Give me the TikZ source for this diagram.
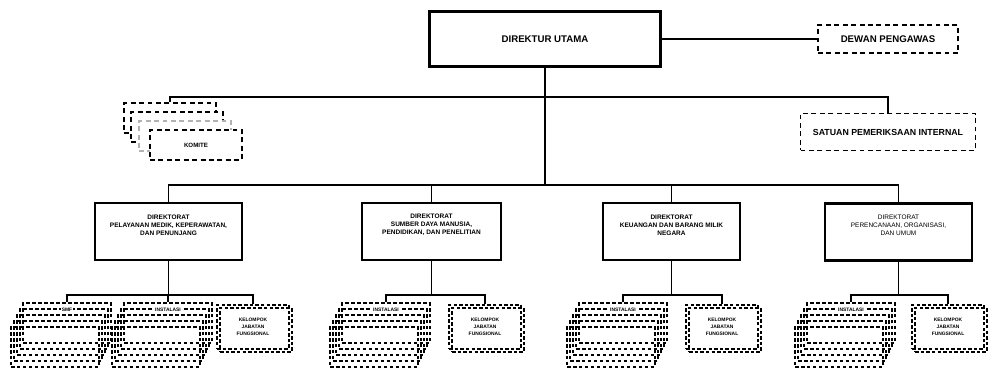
\documentclass[tikz,border=0pt]{standalone}
\usepackage{fontspec}
\setmainfont{Liberation Sans}

\begin{document}
\begin{tikzpicture}[x=0.02cm, y=-0.02cm,
    mainbox/.style={draw, line width=1.2pt, inner sep=0pt},
    dashbox/.style={draw, line width=1pt, dash pattern=on 2.8pt off 2pt, inner sep=0pt},
    stackbox/.style={draw, line width=0.8pt, dash pattern=on 2pt off 1.4pt, inner sep=0pt,
        minimum width=1.76cm, minimum height=0.8cm},
    kjfbox/.style={draw, line width=0.9pt, dash pattern=on 2pt off 1.2pt, inner sep=0pt,
        minimum width=1.44cm, minimum height=0.88cm},
    link/.style={line width=0.9pt},
    toptext/.style={font=\bfseries\fontsize{5.5}{6.5}\selectfont},
    dirtext/.style={font=\bfseries\fontsize{3.7}{4.6}\selectfont, align=center, inner sep=0pt},
    smalltext/.style={font=\bfseries\fontsize{2.8}{4}\selectfont, align=center, inner sep=0pt}
]
    \useasboundingbox (0,0) rectangle (1003,377);

    % Top level
    \node[mainbox, minimum width=4.62cm, minimum height=1.1cm, toptext] (dirut) at (545,39) {DIREKTUR UTAMA};
    \node[dashbox, minimum width=2.8cm, minimum height=0.56cm, toptext] (dewas) at (888,39) {DEWAN PENGAWAS};
    \node[dashbox, minimum width=3.5cm, minimum height=0.74cm, font=\bfseries\fontsize{5}{6}\selectfont] (spi) at (888,132) {SATUAN PEMERIKSAAN INTERNAL};

    % Komite (stacked boxes)
    \foreach \k/\cx/\cy/\col in {1/170/118/black, 2/177/127/black, 3/185/136/gray!60}
        \node[dashbox, draw=\col, fill=white, minimum width=1.84cm, minimum height=0.6cm] (kom\k) at (\cx,\cy) {};
    \node[dashbox, fill=white, minimum width=1.84cm, minimum height=0.6cm, font=\bfseries\fontsize{3.5}{4}\selectfont] (komite) at (196,145) {KOMITE};

    % Direktorat
    \node[mainbox, minimum width=2.94cm, minimum height=1.14cm] (dir1) at (168.5,231.5) {};
    \node[mainbox, minimum width=2.78cm, minimum height=1.14cm] (dir2) at (431.5,231.5) {};
    \node[mainbox, minimum width=2.74cm, minimum height=1.14cm] (dir3) at (671.5,231.5) {};
    \node[mainbox, minimum width=2.94cm, minimum height=1.14cm] (dir4) at (898.5,232) {};
    \node[dirtext] (dir1t) at ([yshift=3.7pt]dir1.center) {DIREKTORAT\\PELAYANAN MEDIK, KEPERAWATAN,\\DAN PENUNJANG};
    \node[dirtext] (dir2t) at ([yshift=3.7pt]dir2.center) {DIREKTORAT\\SUMBER DAYA MANUSIA,\\PENDIDIKAN, DAN PENELITIAN};
    \node[dirtext] (dir3t) at ([yshift=3.7pt]dir3.center) {DIREKTORAT\\KEUANGAN DAN BARANG MILIK\\NEGARA};
    \node[dirtext, font=\fontsize{3.7}{4.6}\selectfont] (dir4t) at ([yshift=3.7pt]dir4.center) {DIREKTORAT\\PERENCANAAN, ORGANISASI,\\DAN UMUM};

    % Connectors of the top part
    \coordinate (busA) at (545,97);
    \coordinate (busB) at (545,185);
    \coordinate (br) at (0,295);
    \draw[link] (dirut.east) -- (dewas.west);
    \draw[link] (dirut.south) -- (busB);
    \draw[link] (kom1.north) |- (busA) -| (spi.north);
    \draw[link] (dir1.north) |- (busB) -| (dir4.north);
    \draw[link] (dir2.north) -- (dir2.north |- busB);
    \draw[link] (dir3.north) -- (dir3.north |- busB);

    % Units below each direktorat (stacked boxes)
    \foreach \nm/\cx/\txt in {sa/67/SMF, sb/168/INSTALASI, sc/386/INSTALASI, sd/623/INSTALASI, se/851/INSTALASI}{
        \foreach \k in {1,...,4}
            \node[stackbox] (\nm\k) at (\cx-3*\k, 323+6*\k) {};
        \node[stackbox] (\nm) at (\cx,323) {};
        \node[smalltext, fill=white, inner sep=0.6pt, anchor=north, yshift=-2.4pt] (\nm t) at (\nm.north) {\txt};
    }

    % Kelompok jabatan fungsional
    \foreach \nm/\cx in {ka/253, kb/485, kc/722, kd/948}{
        \node[kjfbox] (\nm2) at (\cx+3,330) {};
        \node[kjfbox, smalltext] (\nm) at (\cx,327) {KELOMPOK\\JABATAN\\FUNGSIONAL};
    }

    % Connectors of the lower part
    \draw[link] (sa.north) |- (dir1.south |- br) -| (ka.north);
    \draw[link] (dir1.south) -- (dir1.south |- br);
    \draw[link] (sb.north) -- (sb.north |- br);
    \draw[link] (sc.north) |- (dir2.south |- br) -| (kb.north);
    \draw[link] (dir2.south) -- (dir2.south |- br);
    \draw[link] (sd.north) |- (dir3.south |- br) -| (kc.north);
    \draw[link] (dir3.south) -- (dir3.south |- br);
    \draw[link] (se.north) |- (dir4.south |- br) -| (kd.north);
    \draw[link] (dir4.south) -- (dir4.south |- br);
\end{tikzpicture}
\end{document}
